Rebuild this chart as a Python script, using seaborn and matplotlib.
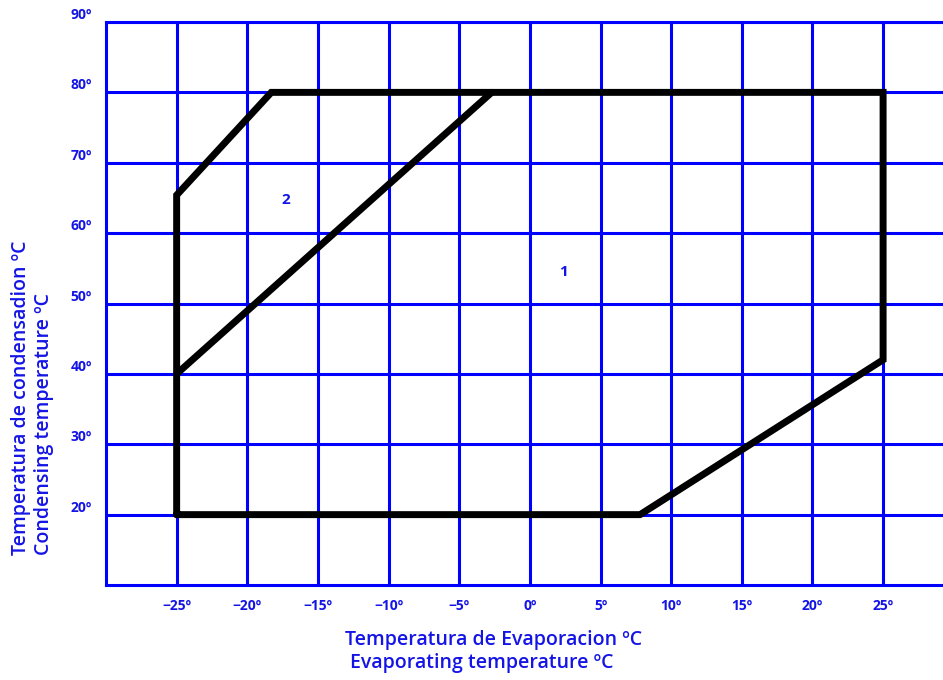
import matplotlib
matplotlib.use("Agg")
import matplotlib.pyplot as plt
import seaborn as sns
import pandas as pd

# Outer envelope (zone 1 + zone 2)
outer_x = [-25, -25, -18.3, 25, 25, 7.8, -25]
outer_y = [20, 65.4, 80, 80, 42, 20, 20]
# Dividing line between zone 2 and zone 1
inner_x = [-25, -2.7]
inner_y = [40, 80]
# Zone labels
zone_labels = ["1", "2"]
zone_x = [2.4, -17.3]
zone_y = [54.5, 64.7]

x_ticks = [-25, -20, -15, -10, -5, 0, 5, 10, 15, 20, 25]
y_ticks = [20, 30, 40, 50, 60, 70, 80, 90]
x_ticklabels = [f"{'−' if v < 0 else ''}{abs(v)}º" for v in x_ticks]
y_ticklabels = [f"{v}º" for v in y_ticks]

BLUE = "#0000ff"
TXT = "#1414e6"

sns.set_style("white")
plt.rcParams['font.family'] = ['Open Sans', 'DejaVu Sans']

fig = plt.figure(figsize=(9.43, 6.8), dpi=100)
ax = fig.add_axes([106/943, 1 - 585/680, 1 - 106/943, (585 - 22)/680])

outer = pd.DataFrame({"x": outer_x, "y": outer_y})
inner = pd.DataFrame({"x": inner_x, "y": inner_y})
sns.lineplot(data=outer, x="x", y="y", sort=False, estimator=None, color="black",
             linewidth=5, ax=ax, zorder=3, solid_joinstyle="miter")
sns.lineplot(data=inner, x="x", y="y", sort=False, estimator=None, color="black",
             linewidth=5, ax=ax, zorder=3)

for lab, zx, zy in zip(zone_labels, zone_x, zone_y):
    ax.text(zx, zy, lab, color=TXT, fontsize=11, fontweight="bold",
            ha="center", va="center")

ax.set_xlim(-30, 29.24)
ax.set_ylim(10, 90)
ax.set_xticks(x_ticks)
ax.set_yticks(y_ticks)
ax.set_xticklabels(x_ticklabels, color=TXT, fontsize=10, fontweight="bold")
ax.set_yticklabels(y_ticklabels, color=TXT, fontsize=10, fontweight="bold")
ax.tick_params(axis="both", length=0)
ax.tick_params(axis="x", pad=10)
ax.tick_params(axis="y", pad=10)
for t in ax.get_yticklabels():
    t.set_verticalalignment("bottom")
ax.grid(True, color=BLUE, linewidth=2.2)
ax.set_axisbelow(True)
for s in ["left", "bottom", "top"]:
    ax.spines[s].set_color(BLUE)
    ax.spines[s].set_linewidth(2.2)
ax.spines["right"].set_visible(False)
ax.set_xlabel("")
ax.set_ylabel("")

lab_kw = dict(color=TXT, fontsize=14, fontweight="semibold")
fig.text(345/943, 1 - 640/680, "Temperatura de Evaporacion ºC",
         ha="left", va="center", **lab_kw)
fig.text(350/943, 1 - 663/680, "Evaporating temperature ºC",
         ha="left", va="center", **lab_kw)
fig.text(21/943, 1 - 555/680, "Temperatura de condensadion ºC",
         ha="left", va="center", rotation=90, rotation_mode="anchor", **lab_kw)
fig.text(44/943, 1 - 555/680, "Condensing temperature ºC",
         ha="left", va="center", rotation=90, rotation_mode="anchor", **lab_kw)

fig.savefig("out.png", dpi=100)
